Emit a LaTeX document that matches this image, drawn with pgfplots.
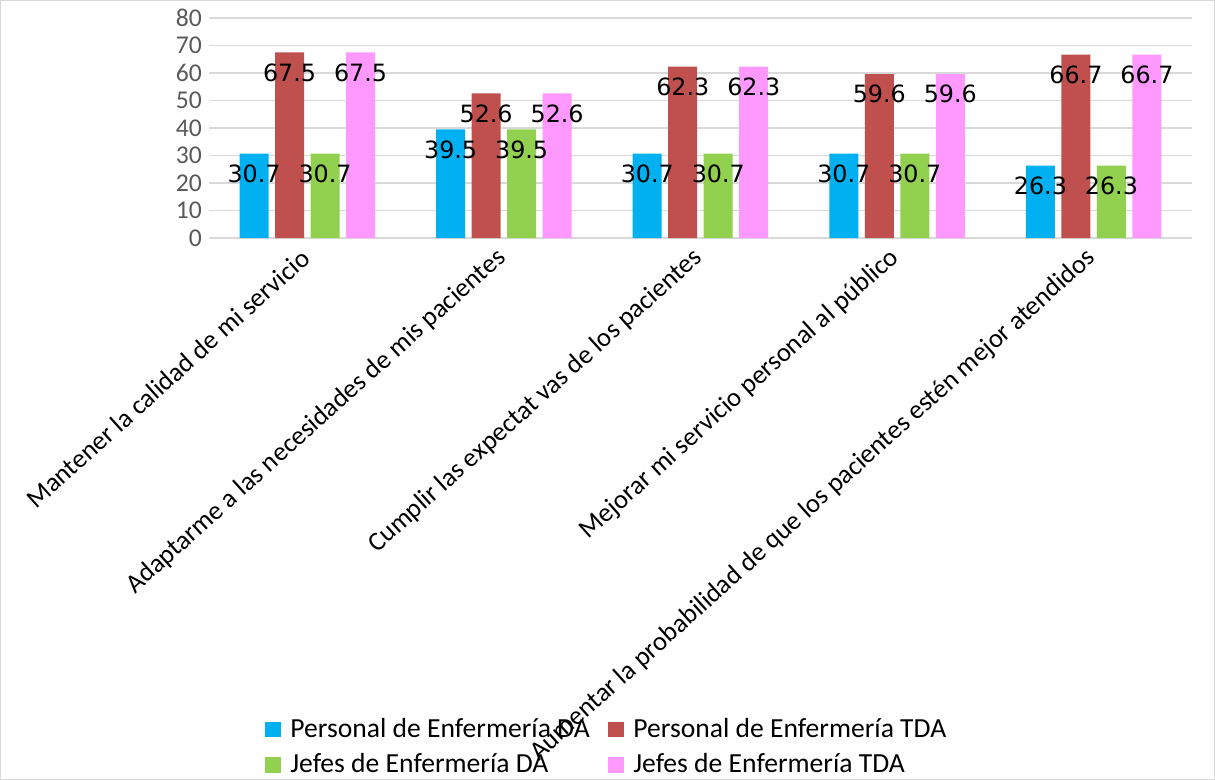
\documentclass[border=0pt]{standalone}
\usepackage{pgfplots}
\pgfplotsset{compat=1.18}
\usepackage{fontspec}
\setmainfont{Carlito}
\newfontfamily\valuefont{DejaVu Sans}

\definecolor{cblue}{HTML}{00B0F0}
\definecolor{cred}{HTML}{C0504D}
\definecolor{cgreen}{HTML}{92D050}
\definecolor{cpink}{HTML}{FF99FF}
\definecolor{gridgray}{HTML}{D9D9D9}
\definecolor{tickgray}{HTML}{595959}

\begin{document}
\begin{tikzpicture}
\begin{axis}[
  at={(0,0)}, anchor=south west,
  scale only axis, width=491.5pt, height=110pt,
  ybar=3.25pt, bar width=14.5pt,
  xmin=-0.5, xmax=4.5, ymin=0, ymax=80,
  ytick={0,10,...,80},
  xtick={0,1,2,3,4},
  xticklabels={
    Mantener la calidad de mi servicio,
    Adaptarme a las necesidades de mis pacientes,
    Cumplir las expectat vas de los pacientes,
    Mejorar mi servicio personal al público,
    Aumentar la probabilidad de que los pacientes estén mejor atendidos},
  axis line style={draw=none},
  major tick length=0pt,
  ymajorgrids, grid style={gridgray, line width=0.9pt},
  /pgf/number format/assume math mode=true,
  yticklabel style={font=\fontsize{12.8}{13}\selectfont, text=tickgray},
  xticklabel style={font=\fontsize{13.3}{15}\selectfont, rotate=42, anchor=east, inner sep=0pt, xshift=-6pt, yshift=-5.5pt},
  nodes near coords,
  nodes near coords style={/pgf/number format/fixed, /pgf/number format/precision=1, /pgf/number format/fixed zerofill},
  every node near coord/.append style={font=\valuefont\fontsize{11.9}{13}\selectfont, text=black, anchor=center, yshift=-10pt},
  legend columns=2,
  legend style={at={(axis description cs:0.057,-2.164)}, anchor=north west, draw=none, fill=none,
    font=\fontsize{13.8}{15}\selectfont, inner sep=0pt, row sep=2.5pt,
    /tikz/every even column/.append style={column sep=0pt}},
  legend cell align=left,
  legend image code/.code={\fill[#1] (0pt,-3.9pt) rectangle (7.8pt,3.9pt); \path (10.5pt,0pt);},
]
\addplot[fill=cblue, draw=none] coordinates {(0,30.7) (1,39.5) (2,30.7) (3,30.7) (4,26.3)};
\addplot[fill=cred, draw=none] coordinates {(0,67.5) (1,52.6) (2,62.3) (3,59.6) (4,66.7)};
\addplot[fill=cgreen, draw=none] coordinates {(0,30.7) (1,39.5) (2,30.7) (3,30.7) (4,26.3)};
\addplot[fill=cpink, draw=none] coordinates {(0,67.5) (1,52.6) (2,62.3) (3,59.6) (4,66.7)};
\legend{\makebox[157pt][l]{Personal de Enfermería DA}, Personal de Enfermería TDA,
        \makebox[157pt][l]{Jefes de Enfermería DA}, Jefes de Enfermería TDA}
\end{axis}
\draw[gridgray, line width=0.75pt] (-104.125pt,-270.625pt) rectangle (502.625pt,118.625pt);
\pgfresetboundingbox
\useasboundingbox (-104.5pt,-271pt) rectangle (503pt,119pt);
\end{tikzpicture}
\end{document}
